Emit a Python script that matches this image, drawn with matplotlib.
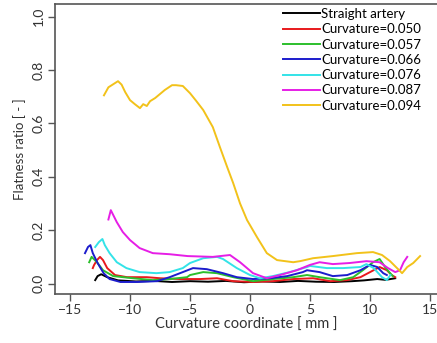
import matplotlib.pyplot as plt

plt.rcParams['font.family'] = ['Lato', 'DejaVu Sans']

labels = ['Straight artery', 'Curvature=0.050', 'Curvature=0.057', 'Curvature=0.066',
          'Curvature=0.076', 'Curvature=0.087', 'Curvature=0.094']
colors = ['black', '#e8191c', '#2cbf2c', '#1c1ccc', '#33e3e8', '#e61ee6', '#f2c21a']

x_straight = [-12.9, -12.7, -12.4, -11.9, -11.0, -9.5, -8.0, -6.5, -5.0, -3.5, -2.0, -0.5, 1.0, 2.5,
              4.0, 5.5, 7.0, 8.5, 9.5, 10.6, 11.3, 12.1]
y_straight = [0.013, 0.028, 0.035, 0.024, 0.012, 0.008, 0.010, 0.006, 0.009, 0.007, 0.010, 0.005,
              0.008, 0.006, 0.010, 0.007, 0.006, 0.009, 0.012, 0.017, 0.014, 0.020]

x_050 = [-13.1, -13.0, -12.75, -12.5, -12.25, -11.9, -11.25, -10.25, -8.6, -7.5, -5.8, -4.17, -2.75,
         -1.4, 0.25, 1.9, 3.6, 5.25, 6.7, 8.1, 9.2, 10.0, 10.8, 11.4, 11.8, 12.1]
y_050 = [0.058, 0.069, 0.088, 0.1, 0.088, 0.058, 0.032, 0.024, 0.024, 0.02, 0.017, 0.017, 0.02,
         0.009, 0.006, 0.009, 0.017, 0.02, 0.009, 0.013, 0.024, 0.043, 0.062, 0.05, 0.032, 0.024]

x_057 = [-13.4, -13.2, -12.75, -12.25, -11.4, -9.75, -8.1, -6.7, -5.25, -5.0, -3.9, -2.75, -1.4, 0.25,
         1.9, 3.6, 4.75, 5.8, 7.5, 8.6, 9.4, 10.25, 10.8, 11.25, 11.67, 11.9]
y_057 = [0.08, 0.1, 0.08, 0.05, 0.028, 0.02, 0.013, 0.017, 0.024, 0.032, 0.043, 0.039, 0.024, 0.009,
         0.017, 0.024, 0.032, 0.024, 0.013, 0.024, 0.05, 0.08, 0.092, 0.062, 0.039, 0.028]

x_066 = [-13.75, -13.5, -13.3, -13.1, -12.7, -12.2, -11.7, -10.8, -9.4, -7.75, -6.7, -5.6, -4.75,
         -3.6, -2.25, -1.1, 0.25, 1.67, 3.1, 4.4, 4.75, 5.8, 6.9, 8.1, 9.2, 10.0, 10.6, 11.1, 11.4]
y_066 = [0.114, 0.137, 0.144, 0.114, 0.077, 0.039, 0.017, 0.006, 0.006, 0.009, 0.024, 0.043, 0.058,
         0.054, 0.039, 0.024, 0.017, 0.02, 0.028, 0.043, 0.05, 0.043, 0.028, 0.032, 0.05, 0.07, 0.062,
         0.039, 0.032]

x_076 = [-12.9, -12.6, -12.3, -12.1, -11.7, -11.1, -10.3, -9.2, -7.8, -6.7, -5.6, -5.0, -3.9, -2.75,
         -2.25, -1.1, 0.0, 0.83, 1.9, 3.3, 4.75, 5.0, 6.4, 7.75, 9.2, 9.7, 10.3, 11.0, 11.4, 11.7]
y_076 = [0.137, 0.155, 0.167, 0.144, 0.114, 0.08, 0.058, 0.043, 0.039, 0.043, 0.058, 0.077, 0.095,
         0.1, 0.092, 0.058, 0.032, 0.02, 0.028, 0.043, 0.062, 0.066, 0.058, 0.058, 0.062, 0.073, 0.058,
         0.024, 0.013, 0.032]

x_087 = [-11.8, -11.6, -11.1, -10.6, -10.0, -9.2, -8.1, -6.7, -5.2, -3.1, -1.67, -0.83, 0.25, 1.4,
         2.5, 3.9, 5.0, 5.8, 6.9, 8.3, 9.7, 10.8, 11.5, 12.1, 12.5, 12.8, 13.1]
y_087 = [0.24, 0.275, 0.23, 0.193, 0.163, 0.133, 0.114, 0.11, 0.103, 0.1, 0.107, 0.08, 0.039, 0.02,
         0.032, 0.05, 0.07, 0.08, 0.073, 0.077, 0.084, 0.08, 0.058, 0.043, 0.05, 0.08, 0.1]

x_094 = [-12.17, -11.8, -11.0, -10.7, -10.4, -10.0, -9.6, -9.17, -8.9, -8.6, -8.33, -7.9, -7.5, -7.1,
         -6.5, -6.17, -5.6, -5.0, -4.5, -3.9, -3.1, -2.5, -1.9, -1.4, -0.83, -0.25, 0.58, 1.4, 2.25,
         3.6, 4.17, 5.25, 6.9, 8.9, 10.25, 11.0, 11.67, 12.25, 12.67, 13.1, 13.6, 14.17]
y_094 = [0.705, 0.735, 0.758, 0.745, 0.717, 0.687, 0.672, 0.657, 0.672, 0.665, 0.683, 0.695, 0.71,
         0.725, 0.743, 0.743, 0.74, 0.713, 0.685, 0.65, 0.586, 0.51, 0.436, 0.376, 0.30, 0.238, 0.174,
         0.114, 0.088, 0.08, 0.084, 0.095, 0.103, 0.114, 0.118, 0.107, 0.084, 0.058, 0.039, 0.062,
         0.077, 0.103]

xs = [x_straight, x_050, x_057, x_066, x_076, x_087, x_094]
ys = [y_straight, y_050, y_057, y_066, y_076, y_087, y_094]

fig = plt.figure(figsize=(4.37, 3.43), dpi=100)
ax = fig.add_axes([55 / 437, 49 / 343, 382 / 437, 290 / 343])

for x, y, c, lab in zip(xs, ys, colors, labels):
    ax.plot(x, y, color=c, lw=1.4, label=lab)

ax.set_xlim(-16.25, 15.58)
ax.set_ylim(-0.039, 1.047)
ax.set_xticks([-15, -10, -5, 0, 5, 10, 15])
ax.set_yticks([0.0, 0.2, 0.4, 0.6, 0.8, 1.0])
ax.set_yticklabels(['0.0', '0.2', '0.4', '0.6', '0.8', '1.0'], rotation=90, va='center')
ax.tick_params(direction='out', length=5, width=1, colors='#555555', labelcolor='#333333',
               labelsize=10, pad=2.5)
for s in ['left', 'top', 'bottom']:
    ax.spines[s].set_color('#555555')
    ax.spines[s].set_linewidth(1.2)
ax.spines['right'].set_visible(False)

ax.set_xlabel('Curvature coordinate [ mm ]', fontsize=10.5, color='#333333', labelpad=1)
ax.set_ylabel('Flatness ratio [ - ]', fontsize=9.5, color='#333333', labelpad=5)

ax.legend(loc='upper left', bbox_to_anchor=(283 / 437, 1 - 8 / 343), bbox_transform=fig.transFigure,
          frameon=False, fontsize=9.5, handlelength=2.8, handletextpad=0.1, labelspacing=0.25,
          borderaxespad=0, borderpad=0)

fig.savefig('out.png', dpi=100)
